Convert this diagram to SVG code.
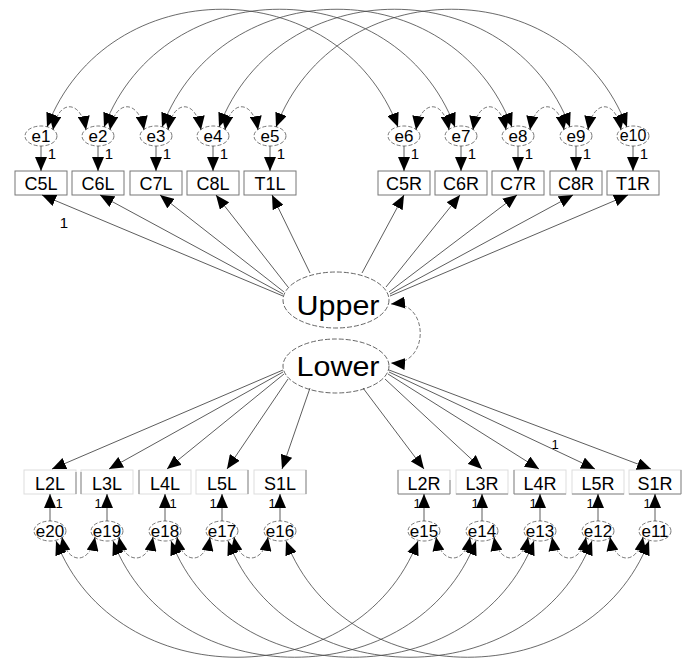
<svg xmlns="http://www.w3.org/2000/svg" width="690" height="660" viewBox="0 0 690 660">
<defs>
<marker id="ah" viewBox="0 0 14 12" refX="14" refY="6" markerWidth="14" markerHeight="12" markerUnits="userSpaceOnUse" orient="auto-start-reverse"><path d="M0,0 L14,6 L0,12 z" fill="#000"/></marker>
<style>
text{font-family:"Liberation Sans",Arial,sans-serif;fill:#000}
.box{fill:#fff;stroke:#777;stroke-width:1}
.fbox{fill:#fff;stroke:#ddd;stroke-width:1}
.edge{fill:none;stroke:#888;stroke-width:1}
.err{fill:#fff;stroke:#555;stroke-width:0.8;stroke-dasharray:4 2}
.lat{fill:#fff;stroke:#555;stroke-width:0.9;stroke-dasharray:5 2}
.vt{font-size:18px;text-anchor:middle}
.et{font-size:17px;text-anchor:middle}
.one{font-size:15px;text-anchor:middle}
.one2{font-size:13px;text-anchor:middle}
.lt{font-size:27px;text-anchor:middle}
.ld{fill:none;stroke:#333;stroke-width:0.8;marker-end:url(#ah)}
.cov{fill:none;stroke:#444;stroke-width:0.8;marker-start:url(#ah);marker-end:url(#ah)}
.scov{fill:none;stroke:#555;stroke-width:0.8;stroke-dasharray:4 2;marker-start:url(#ah);marker-end:url(#ah)}
</style>
</defs>

<!-- top observed -->
<g id="C5L"><rect class="box" x="15" y="171" width="52" height="24"/><text class="vt" x="41" y="190">C5L</text></g>
<g id="C6L"><rect class="box" x="72" y="171" width="52" height="24"/><text class="vt" x="98" y="190">C6L</text></g>
<g id="C7L"><rect class="box" x="130" y="171" width="52" height="24"/><text class="vt" x="156" y="190">C7L</text></g>
<g id="C8L"><rect class="box" x="187" y="171" width="52" height="24"/><text class="vt" x="213" y="190">C8L</text></g>
<g id="T1L"><rect class="box" x="244" y="171" width="52" height="24"/><text class="vt" x="270" y="190">T1L</text></g>
<g id="C5R"><rect class="box" x="378" y="171" width="52" height="24"/><text class="vt" x="404" y="190">C5R</text></g>
<g id="C6R"><rect class="box" x="435" y="171" width="52" height="24"/><text class="vt" x="461" y="190">C6R</text></g>
<g id="C7R"><rect class="box" x="492" y="171" width="52" height="24"/><text class="vt" x="518" y="190">C7R</text></g>
<g id="C8R"><rect class="box" x="550" y="171" width="52" height="24"/><text class="vt" x="576" y="190">C8R</text></g>
<g id="T1R"><rect class="box" x="607" y="171" width="52" height="24"/><text class="vt" x="633" y="190">T1R</text></g>

<!-- top errors -->
<g id="e1"><ellipse class="err" cx="41" cy="136" rx="16" ry="10"/><text class="et" x="41" y="142">e1</text></g>
<g id="e2"><ellipse class="err" cx="98" cy="136" rx="16" ry="10"/><text class="et" x="98" y="142">e2</text></g>
<g id="e3"><ellipse class="err" cx="156" cy="136" rx="16" ry="10"/><text class="et" x="156" y="142">e3</text></g>
<g id="e4"><ellipse class="err" cx="213" cy="136" rx="16" ry="10"/><text class="et" x="213" y="142">e4</text></g>
<g id="e5"><ellipse class="err" cx="270" cy="136" rx="16" ry="10"/><text class="et" x="270" y="142">e5</text></g>
<g id="e6"><ellipse class="err" cx="404" cy="136" rx="16" ry="10"/><text class="et" x="404" y="142">e6</text></g>
<g id="e7"><ellipse class="err" cx="461" cy="136" rx="16" ry="10"/><text class="et" x="461" y="142">e7</text></g>
<g id="e8"><ellipse class="err" cx="518" cy="136" rx="16" ry="10"/><text class="et" x="518" y="142">e8</text></g>
<g id="e9"><ellipse class="err" cx="576" cy="136" rx="16" ry="10"/><text class="et" x="576" y="142">e9</text></g>
<g id="e10"><ellipse class="err" cx="633" cy="136" rx="16" ry="10"/><text class="et" x="633" y="141" style="font-size:16px">e10</text></g>

<!-- latents -->
<g id="Upper"><ellipse class="lat" cx="336" cy="300" rx="53" ry="28"/><text class="lt" x="338" y="315" textLength="83" lengthAdjust="spacingAndGlyphs">Upper</text></g>
<g id="Lower"><ellipse class="lat" cx="336" cy="366" rx="53" ry="27"/><text class="lt" x="338" y="376" textLength="83" lengthAdjust="spacingAndGlyphs">Lower</text></g>

<!-- bottom observed -->
<g id="L2L"><rect class="fbox" x="24" y="470" width="52" height="24"/><text class="vt" x="50" y="490">L2L</text></g>
<g id="L3L"><rect class="fbox" x="81" y="470" width="52" height="24"/><text class="vt" x="107" y="490">L3L</text></g>
<g id="L4L"><rect class="fbox" x="139" y="470" width="52" height="24"/><text class="vt" x="165" y="490">L4L</text></g>
<g id="L5L"><rect class="fbox" x="196" y="470" width="52" height="24"/><text class="vt" x="222" y="490">L5L</text></g>
<g id="S1L"><rect class="fbox" x="254" y="470" width="52" height="24"/><text class="vt" x="280" y="490">S1L</text></g>
<g id="L2R"><rect class="fbox" x="398" y="470" width="52" height="24"/><text class="vt" x="424" y="490">L2R</text></g>
<g id="L3R"><rect class="fbox" x="456" y="470" width="52" height="24"/><text class="vt" x="482" y="490">L3R</text></g>
<g id="L4R"><rect class="fbox" x="514" y="470" width="52" height="24"/><text class="vt" x="540" y="490">L4R</text></g>
<g id="L5R"><rect class="fbox" x="572" y="470" width="52" height="24"/><text class="vt" x="598" y="490">L5R</text></g>
<g id="S1R"><rect class="fbox" x="629" y="470" width="52" height="24"/><text class="vt" x="655" y="490">S1R</text></g>
<path class="edge" d="M76,472 V494 M81,472 V494 M139,470 V494 M248,470 V494 M306,470 V494 M398,470 V494 H450 V480 M456,494 H508 M514,470 V494 H566 M572,494 H624 M629,494 H681 V470"/>

<!-- bottom errors -->
<g id="e20"><ellipse class="err" cx="50" cy="531" rx="16" ry="10"/><text class="et" x="50" y="537">e20</text></g>
<g id="e19"><ellipse class="err" cx="107" cy="531" rx="16" ry="10"/><text class="et" x="107" y="537">e19</text></g>
<g id="e18"><ellipse class="err" cx="165" cy="531" rx="16" ry="10"/><text class="et" x="165" y="537">e18</text></g>
<g id="e17"><ellipse class="err" cx="222" cy="531" rx="16" ry="10"/><text class="et" x="222" y="537">e17</text></g>
<g id="e16"><ellipse class="err" cx="280" cy="531" rx="16" ry="10"/><text class="et" x="280" y="537">e16</text></g>
<g id="e15"><ellipse class="err" cx="424" cy="531" rx="16" ry="10"/><text class="et" x="424" y="537">e15</text></g>
<g id="e14"><ellipse class="err" cx="482" cy="531" rx="16" ry="10"/><text class="et" x="482" y="537">e14</text></g>
<g id="e13"><ellipse class="err" cx="540" cy="531" rx="16" ry="10"/><text class="et" x="540" y="537">e13</text></g>
<g id="e12"><ellipse class="err" cx="598" cy="531" rx="16" ry="10"/><text class="et" x="598" y="537">e12</text></g>
<g id="e11"><ellipse class="err" cx="655" cy="531" rx="16" ry="10"/><text class="et" x="655" y="537">e11</text></g>

<g id="connectors">
<!-- error to indicator, top -->
<path class="ld" d="M41,146 V171"/>
<path class="ld" d="M98,146 V171"/>
<path class="ld" d="M156,146 V171"/>
<path class="ld" d="M213,146 V171"/>
<path class="ld" d="M270,146 V171"/>
<path class="ld" d="M404,146 V171"/>
<path class="ld" d="M461,146 V171"/>
<path class="ld" d="M518,146 V171"/>
<path class="ld" d="M576,146 V171"/>
<path class="ld" d="M633,146 V171"/>
<!-- error to indicator, bottom -->
<path class="ld" d="M50,521 V494"/>
<path class="ld" d="M107,521 V494"/>
<path class="ld" d="M165,521 V494"/>
<path class="ld" d="M222,521 V494"/>
<path class="ld" d="M280,521 V494"/>
<path class="ld" d="M424,521 V494"/>
<path class="ld" d="M482,521 V494"/>
<path class="ld" d="M540,521 V494"/>
<path class="ld" d="M598,521 V494"/>
<path class="ld" d="M655,521 V494"/>
<!-- Upper loadings -->
<path class="ld" d="M283,296 L42,195"/>
<path class="ld" d="M283,294 L100,195"/>
<path class="ld" d="M284,292 L160,195"/>
<path class="ld" d="M288,287 L216,195"/>
<path class="ld" d="M310,273 L272,195"/>
<path class="ld" d="M362,273 L404,195"/>
<path class="ld" d="M386,287 L460,195"/>
<path class="ld" d="M389,292 L517,195"/>
<path class="ld" d="M390,294 L573,195"/>
<path class="ld" d="M390,296 L628,195"/>
<!-- Lower loadings -->
<path class="ld" d="M283,370 L52,469"/>
<path class="ld" d="M283,372 L109,469"/>
<path class="ld" d="M284,374 L167,469"/>
<path class="ld" d="M288,379 L227,469"/>
<path class="ld" d="M310,388 L282,469"/>
<path class="ld" d="M363,388 L424,469"/>
<path class="ld" d="M385,379 L482,469"/>
<path class="ld" d="M388,374 L539,469"/>
<path class="ld" d="M389,372 L595,469"/>
<path class="ld" d="M389,370 L651,469"/>
<!-- Upper-Lower covariance -->
<path class="scov" d="M391,304 C430,300 430,366 391,363"/>
<!-- top adjacent covariances -->
<path class="scov" d="M53,130 C58,99 81,99 86,130"/>
<path class="scov" d="M110,130 C115,99 139,99 144,130"/>
<path class="scov" d="M168,130 C173,99 196,99 201,130"/>
<path class="scov" d="M225,130 C230,99 253,99 258,130"/>
<path class="scov" d="M416,130 C421,99 444,99 449,130"/>
<path class="scov" d="M473,130 C478,99 501,99 506,130"/>
<path class="scov" d="M530,130 C535,99 559,99 564,130"/>
<path class="scov" d="M588,130 C593,99 616,99 621,130"/>
<!-- top long covariances -->
<path class="cov" d="M47,127 C107,-30 338,-30 398,127"/>
<path class="cov" d="M104,127 C164,-30 395,-30 455,127"/>
<path class="cov" d="M162,127 C222,-30 452,-30 512,127"/>
<path class="cov" d="M219,127 C279,-30 510,-30 570,127"/>
<path class="cov" d="M276,127 C336,-30 567,-30 627,127"/>
<!-- bottom adjacent covariances -->
<path class="scov" d="M62,537 C67,565 90,565 95,537"/>
<path class="scov" d="M119,537 C124,565 148,565 153,537"/>
<path class="scov" d="M177,537 C182,565 205,565 210,537"/>
<path class="scov" d="M234,537 C239,565 263,565 268,537"/>
<path class="scov" d="M436,537 C441,565 465,565 470,537"/>
<path class="scov" d="M494,537 C499,565 523,565 528,537"/>
<path class="scov" d="M552,537 C557,565 581,565 586,537"/>
<path class="scov" d="M610,537 C615,565 638,565 643,537"/>
<!-- bottom long covariances -->
<path class="cov" d="M56,541 C116,696 358,696 418,541"/>
<path class="cov" d="M113,541 C173,696 416,696 476,541"/>
<path class="cov" d="M171,541 C231,696 474,696 534,541"/>
<path class="cov" d="M228,541 C288,696 532,696 592,541"/>
<path class="cov" d="M286,541 C346,696 589,696 649,541"/>
</g>

<!-- fixed parameter labels -->
<g id="labels">
<text class="one" x="52" y="159">1</text>
<text class="one" x="109" y="159">1</text>
<text class="one" x="167" y="159">1</text>
<text class="one" x="224" y="159">1</text>
<text class="one" x="281" y="159">1</text>
<text class="one" x="415" y="159">1</text>
<text class="one" x="472" y="159">1</text>
<text class="one" x="529" y="159">1</text>
<text class="one" x="587" y="159">1</text>
<text class="one" x="644" y="159">1</text>
<text class="one" x="64" y="228">1</text>
<text class="one2" x="59" y="508">1</text>
<text class="one2" x="98" y="508">1</text>
<text class="one2" x="173" y="508">1</text>
<text class="one2" x="213" y="508">1</text>
<text class="one2" x="272" y="508">1</text>
<text class="one2" x="417" y="508">1</text>
<text class="one2" x="475" y="508">1</text>
<text class="one2" x="533" y="508">1</text>
<text class="one2" x="590" y="508">1</text>
<text class="one2" x="647" y="508">1</text>
<text class="one2" x="555" y="449">1</text>
</g>
</svg>
